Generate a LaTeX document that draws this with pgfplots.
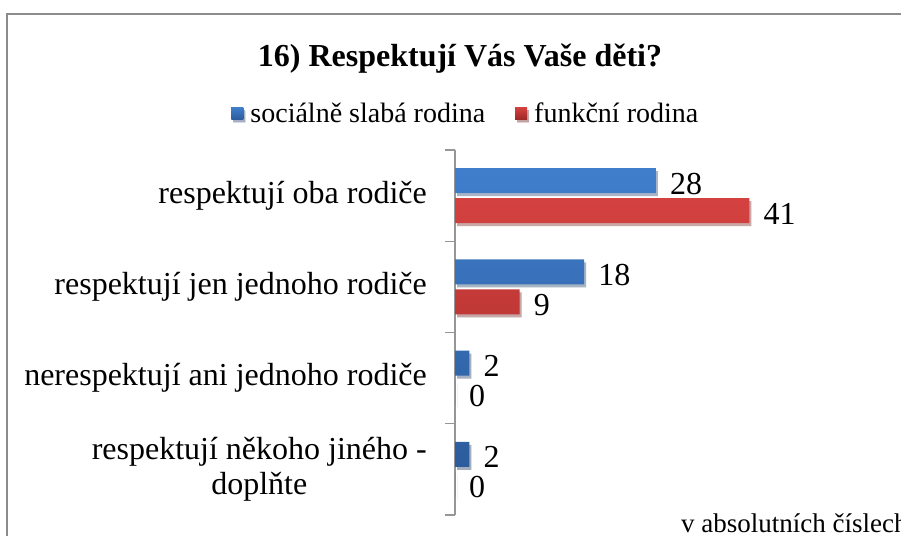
\documentclass[border=0pt]{standalone}
\usepackage{pgfplots}
\pgfplotsset{compat=1.18}
\usepackage{fontspec}
\setmainfont{Liberation Serif}
\usetikzlibrary{shadows}
\definecolor{bluetop}{RGB}{64,126,204}
\definecolor{bluebot}{RGB}{44,92,156}
\definecolor{bluemid}{RGB}{56,112,186}
\definecolor{redtop}{RGB}{212,66,64}
\definecolor{redbot}{RGB}{160,40,40}
\definecolor{redmid}{RGB}{194,54,52}
\definecolor{framegray}{RGB}{140,140,140}
\definecolor{axisgray}{RGB}{150,150,150}
\begin{document}
\begin{tikzpicture}[x=1pt,y=1pt]
\path[use as bounding box] (0,0) rectangle (901,535);
\draw[framegray, line width=1.5pt] (7,-2) -- (7,521) -- (903,521);
\begin{axis}[
  at={(455pt,20pt)}, anchor=south west,
  width=435pt, height=365pt, scale only axis,
  xbar, bar width=25pt,
  xmin=0, xmax=60.6,
  ymin=-0.5, ymax=3.5, y dir=reverse,
  hide x axis,
  axis y line=left,
  y axis line style={-, draw=axisgray, line width=1.2pt},
  ytick={0,1,2,3},
  yticklabels={respektují oba rodiče, respektují jen jednoho rodiče, nerespektují ani jednoho rodiče, {respektují někoho jiného -\\doplňte}},
  major tick length=0pt,
  minor ytick={-0.5,0.5,1.5,2.5,3.5},
  minor tick length=10pt,
  tick align=outside,
  ytick style={draw=axisgray, line width=1.2pt},
  yticklabel style={font=\fontsize{32}{35}\selectfont, align=center, inner sep=0pt, xshift=-28pt},
  /pgf/number format/assume math mode=true,
  title={16) Respektují Vás Vaše děti?},
  title style={at={(0.0115,1.233)}, anchor=center, font=\bfseries\fontsize{32}{36}\selectfont},
  legend style={at={(0.025,1.101)}, anchor=center, draw=none, fill=none, font=\fontsize{28}{32}\selectfont, /tikz/every even column/.append style={column sep=28pt}},
  legend columns=2,
  legend cell align=left,
  nodes near coords,
  every node near coord/.append style={text=black, font=\fontsize{32}{36}\selectfont, anchor=west, inner sep=0pt, xshift=14pt, yshift=-3pt},
  clip=false,
]
\addplot[draw=none, top color=bluetop, bottom color=bluebot, bar shift=15pt,
  drop shadow={shadow xshift=2pt, shadow yshift=-3pt, opacity=0.22, fill=black},
  legend image code/.code={\fill[bluemid] (0pt,-6pt) rectangle (12pt,6pt); \path (17pt,0pt);}]
  coordinates {(28,0) (18,1) (2,2) (2,3)};
\addlegendentry{sociálně slabá rodina}
\addplot[draw=none, top color=redtop, bottom color=redbot, bar shift=-15pt,
  drop shadow={shadow xshift=2pt, shadow yshift=-3pt, opacity=0.22, fill=black},
  legend image code/.code={\fill[redmid] (0pt,-6pt) rectangle (12pt,6pt); \path (17pt,0pt);}]
  coordinates {(41,0) (9,1) (0,2) (0,3)};
\addlegendentry{funkční rodina}
\end{axis}
\node[anchor=base west, font=\fontsize{27}{30}\selectfont, inner sep=0pt] at (681,3) {v absolutních číslech};
\end{tikzpicture}
\end{document}
